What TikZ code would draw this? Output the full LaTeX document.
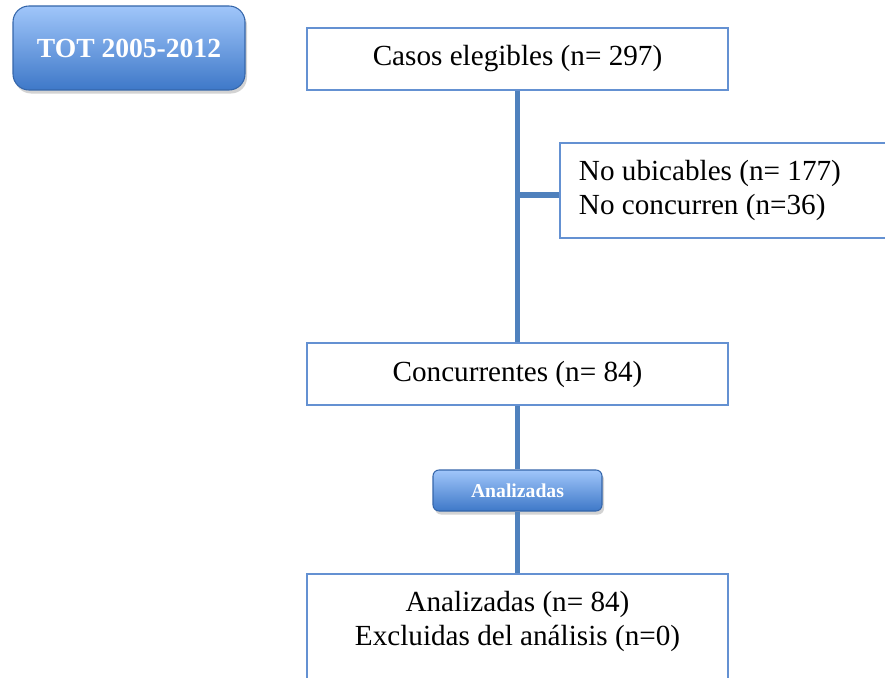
\documentclass[tikz,border=0pt]{standalone}
\usepackage{fontspec}
\setmainfont{Liberation Serif}
\usetikzlibrary{shadows}
\definecolor{linea}{RGB}{79,129,189}
\definecolor{borde}{RGB}{100,145,210}
\definecolor{azulclaro}{RGB}{160,198,250}
\definecolor{azuloscuro}{RGB}{62,120,200}

\begin{document}
\begin{tikzpicture}[
   caja/.style={draw=borde, line width=1.1pt, fill=white, minimum width=8.42cm, minimum height=1.24cm, font=\fontsize{16.6}{19.3}\selectfont},
   boton/.style={draw=azuloscuro!85!black, line width=0.6pt, top color=azulclaro, bottom color=azuloscuro, text=white, drop shadow={shadow xshift=0.04cm, shadow yshift=-0.07cm, opacity=0.35}},
   conector/.style={draw=linea, line width=3.4pt}]
   \useasboundingbox (0,0) rectangle (17.7,-13.54);
   \clip (0,0) rectangle (17.7,-13.54);

   % título
   \node (tot) [boton, rounded corners=0.32cm, minimum width=4.64cm, minimum height=1.68cm, font=\fontsize{15.7}{18}\selectfont\bfseries] at (2.58,-0.96) {TOT 2005-2012};

   % cajas
   \node (casos) [caja] at (10.35,-1.18) {Casos elegibles (n= 297)};
   \node (noubic) [caja, anchor=north west, minimum height=1.9cm, align=flush left, text width=7.66cm, inner xsep=0.38cm] at (11.18,-2.84) {No ubicables (n= 177)\\No concurren (n=36)};
   \node (concurr) [caja] at (10.35,-7.48) {Concurrentes (n= 84)};
   \node (analiz) [boton, rounded corners=0.12cm, minimum width=3.38cm, minimum height=0.82cm, font=\fontsize{11.2}{13}\selectfont\bfseries] at (10.35,-9.81) {Analizadas};
   \node (final) [caja, anchor=north, inner ysep=0.34cm] at (10.35,-11.46) {\parbox[t][2.2cm][t]{8cm}{\centering Analizadas (n= 84)\\Excluidas del análisis (n=0)}};

   % líneas
   \coordinate (rama) at (10.35,-3.9);
   \draw[conector] (casos) -- (concurr);
   \draw[conector] (rama) -- (rama -| noubic.west);
   \draw[conector] (concurr) -- (analiz);
   \draw[conector] (analiz) -- (final);

\end{tikzpicture}
\end{document}
